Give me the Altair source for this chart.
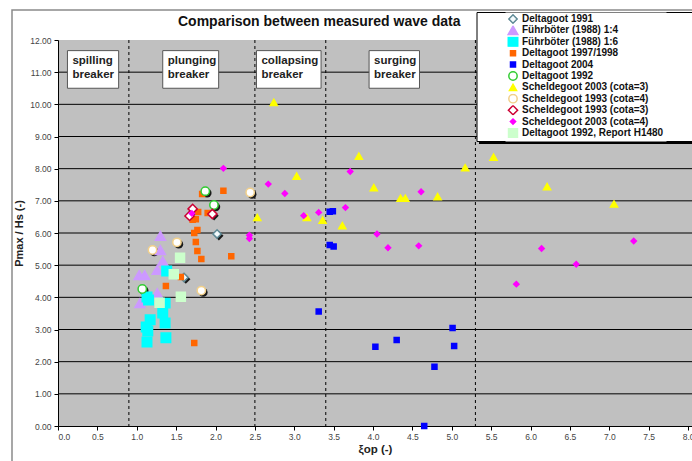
import altair as alt
import pandas as pd

FONT = "Liberation Sans"

SERIES = [
    "Deltagoot 1991",
    "Führböter (1988) 1:4",
    "Führböter (1988) 1:6",
    "Deltagoot 1997/1998",
    "Deltagoot 2004",
    "Deltagoot 1992",
    "Scheldegoot 2003 (cota=3)",
    "Scheldegoot 1993 (cota=4)",
    "Scheldegoot 1993 (cota=3)",
    "Scheldegoot 2003 (cota=4)",
    "Deltagoot 1992, Report H1480",
]

dg1991_x = [2.02, 1.60]
dg1991_y = [5.97, 4.62]
fb14_x = [1.30, 1.30, 1.33, 1.26, 1.03, 1.10, 1.26, 1.04]
fb14_y = [5.91, 5.47, 5.13, 4.85, 4.69, 4.69, 4.13, 3.82]
fb16_x = [1.38, 1.13, 1.15, 1.36, 1.33, 1.17, 1.36, 1.12, 1.14, 1.13, 1.37]
fb16_y = [4.82, 4.01, 3.92, 3.82, 3.51, 3.30, 3.20, 3.08, 2.95, 2.61, 2.74]
dg9798_x = [1.83, 2.10, 1.78, 1.90, 1.75, 1.71, 1.73, 1.77, 1.75, 1.77, 1.82, 2.20, 1.37, 1.56, 1.73]
dg9798_y = [7.21, 7.31, 6.65, 6.62, 6.43, 6.41, 6.00, 6.09, 5.72, 5.44, 5.19, 5.28, 4.35, 4.63, 2.58]
dg2004_x = [3.45, 3.49, 3.45, 3.50, 3.31, 4.03, 4.30, 5.01, 5.03, 4.78, 4.65]
dg2004_y = [6.66, 6.68, 5.63, 5.58, 3.56, 2.46, 2.67, 3.05, 2.49, 1.84, 0.00]
dg1992_x = [1.87, 1.98, 1.07]
dg1992_y = [7.30, 6.87, 4.26]
sg2003c3_x = [2.74, 3.82, 3.03, 4.01, 4.35, 4.41, 4.82, 5.17, 5.53, 6.21, 7.06, 2.53, 3.16, 3.36, 3.61]
sg2003c3_y = [10.06, 8.39, 7.77, 7.41, 7.08, 7.08, 7.13, 8.03, 8.36, 7.44, 6.90, 6.48, 6.48, 6.40, 6.23]
sg1993c4_x = [1.20, 1.51, 1.82, 2.44]
sg1993c4_y = [5.47, 5.71, 4.21, 7.26]
sg1993c3_x = [1.71, 1.67, 1.96]
sg1993c3_y = [6.75, 6.53, 6.59]
sg2003c4_x = [2.10, 1.70, 2.43, 2.43, 2.67, 2.88, 3.71, 3.12, 3.31, 3.65, 4.61, 4.05, 4.19, 4.58, 6.14, 6.58, 7.31, 5.82]
sg2003c4_y = [8.01, 6.61, 5.93, 5.83, 7.52, 7.23, 7.91, 6.54, 6.64, 6.79, 7.28, 5.97, 5.54, 5.60, 5.52, 5.03, 5.75, 4.41]
h1480_x = [1.55, 1.47, 1.56, 1.29]
h1480_y = [5.23, 4.72, 4.02, 3.83]

XS = [dg1991_x, fb14_x, fb16_x, dg9798_x, dg2004_x, dg1992_x, sg2003c3_x, sg1993c4_x, sg1993c3_x, sg2003c4_x, h1480_x]
YS = [dg1991_y, fb14_y, fb16_y, dg9798_y, dg2004_y, dg1992_y, sg2003c3_y, sg1993c4_y, sg1993c3_y, sg2003c4_y, h1480_y]

SHAPES = ["diamond", "triangle-up", "square", "square", "square", "circle",
          "triangle-up", "circle", "diamond", "diamond", "square"]
FILLS = ["#f4fbfd", "#cc99ff", "#00ffff", "#ff6600", "#0000ff", "#ffffff",
         "#ffff00", "#ffffff", "#ffffff", "#ff00ff", "#ccffcc"]
STROKES = ["#5f8a96", "#cc99ff", "#00ffff", "#ff6600", "#0000ff", "#33cc33",
           "#ffff00", "#f2d08a", "#cc0033", "#ff00ff", "#ccffcc"]
SIZES = [70, 100, 90, 25, 25, 70, 50, 70, 85, 28, 80]
SHADOWED = ["Deltagoot 1991", "Deltagoot 1992", "Scheldegoot 1993 (cota=4)", "Scheldegoot 1993 (cota=3)"]

regime_x = [0.9, 2.5, 3.4, 5.3]
box_labels = ["spilling\nbreaker", "plunging\nbreaker", "collapsing\nbreaker", "surging\nbreaker"]
box_x0 = [0.12, 1.33, 2.52, 3.95]
box_x1 = [0.77, 2.04, 3.34, 4.59]
box_ytop = [11.67, 11.67, 11.67, 11.67]
box_ybot = [10.50, 10.50, 10.50, 10.50]

grid_y = list(range(1, 12))
y_ticks = list(range(0, 13))
x_ticks = [i * 0.5 for i in range(17)]

rows = []
for k, (name, xs, ys) in enumerate(zip(SERIES, XS, YS)):
    for xv, yv in zip(xs, ys):
        rows.append({"series": name, "x": xv, "y": yv, "idx": k})
df = pd.DataFrame(rows)

xscale = alt.Scale(domain=[0, 8.05], nice=False, zero=False)
yscale = alt.Scale(domain=[0, 12], nice=False, zero=False)

XAXIS = alt.Axis(
    values=x_ticks, format=".1f", title="ξop (-)", grid=False,
    tickSize=4, tickColor="#000", domainColor="#000",
    labelFont=FONT, labelFontSize=8.5, labelColor="#444", labelPadding=2,
    titleFont=FONT, titleFontSize=11.5, titleFontWeight="bold", titleColor="#222", titlePadding=3,
)
YAXIS = alt.Axis(
    values=y_ticks, format=".2f", title="Pmax / Hs (-)", grid=False,
    tickSize=4, tickColor="#000", domainColor="#000",
    labelFont=FONT, labelFontSize=8.5, labelColor="#444", labelPadding=3,
    titleFont=FONT, titleFontSize=11, titleFontWeight="bold", titleColor="#222", titlePadding=5,
)


def X(field):
    return alt.X(field, scale=xscale, axis=XAXIS)


def Y(field):
    return alt.Y(field, scale=yscale, axis=YAXIS)


legend = alt.Legend(
    title=None, orient="none", legendX=447, legendY=-28,
    fillColor="white", strokeColor="transparent", padding=2,
    labelOffset=3, symbolStrokeWidth=1.5, clipHeight=10,
    labelFont=FONT, labelFontSize=10, labelFontWeight="bold", labelColor="#111",
    rowPadding=1.4, labelLimit=400,
)

one = pd.DataFrame({"a": [0]})

frame = alt.Chart(one).mark_rect(
    fill="transparent", stroke="#8a8a8a", strokeWidth=1.5
).encode(x=alt.value(-46), x2=alt.value(720), y=alt.value(-30), y2=alt.value(480))

# legend box (white panel with black border and dark drop shadow, as in the original)
legend_shadow = alt.Chart(one).mark_rect(fill="#000000").encode(
    x=alt.value(421), x2=alt.value(720), y=alt.value(-25), y2=alt.value(104)
)
legend_panel = alt.Chart(one).mark_rect(fill="white", stroke="#000000", strokeWidth=1).encode(
    x=alt.value(419), x2=alt.value(720), y=alt.value(-27.5), y2=alt.value(101.5)
)

grid = alt.Chart(pd.DataFrame({"g": grid_y})).mark_rule(color="#000000", strokeWidth=1).encode(
    y=Y("g:Q")
)

dashes = alt.Chart(pd.DataFrame({"rx": regime_x})).mark_rule(
    color="#000000", strokeWidth=1, strokeDash=[3, 3]
).encode(x=X("rx:Q"))

boxes_df = pd.DataFrame({"label": box_labels, "x0": box_x0, "x1": box_x1, "yt": box_ytop, "yb": box_ybot})
boxes = alt.Chart(boxes_df).mark_rect(fill="white", stroke="#555555", strokeWidth=1).encode(
    x=X("x0:Q"), x2="x1", y=Y("yt:Q"), y2="yb",
)
box_text = alt.Chart(boxes_df).mark_text(
    align="left", baseline="top", dx=5, dy=4, lineBreak="\n", lineHeight=14,
    font=FONT, fontSize=11.5, fontWeight="bold", color="#222222"
).encode(x=X("x0:Q"), y=Y("yt:Q"), text="label:N")

sh_df = df[df["series"].isin(SHADOWED)]
shadow_c = alt.Chart(sh_df[sh_df["series"].isin(["Deltagoot 1992", "Scheldegoot 1993 (cota=4)"])]).mark_point(
    shape="circle", filled=True, color="#1a1a1a", size=80, opacity=1, xOffset=1.8, yOffset=1.8
).encode(x=X("x:Q"), y=Y("y:Q"))
shadow_d = alt.Chart(sh_df[sh_df["series"].isin(["Deltagoot 1991", "Scheldegoot 1993 (cota=3)"])]).mark_point(
    shape="diamond", filled=True, color="#1a1a1a", size=85, opacity=1, xOffset=1.8, yOffset=1.8
).encode(x=X("x:Q"), y=Y("y:Q"))

points = alt.Chart(df).mark_point(opacity=1, strokeWidth=1.5).encode(
    x=X("x:Q"),
    y=Y("y:Q"),
    shape=alt.Shape("series:N", scale=alt.Scale(domain=SERIES, range=SHAPES), legend=legend),
    fill=alt.Fill("series:N", scale=alt.Scale(domain=SERIES, range=FILLS), legend=legend),
    stroke=alt.Stroke("series:N", scale=alt.Scale(domain=SERIES, range=STROKES), legend=legend),
    size=alt.Size("series:N", scale=alt.Scale(type="ordinal", domain=SERIES, range=SIZES), legend=legend),
    order=alt.Order("idx:Q"),
)

chart = alt.layer(
    frame, grid, dashes, boxes, box_text, shadow_c, shadow_d, points, legend_shadow, legend_panel
).properties(
    width=634, height=386,
    padding={"left": 58, "top": 40, "right": 0, "bottom": 35},
    autosize=alt.AutoSizeParams(type="none"),
    title=alt.TitleParams(
        text="Comparison between measured wave data", anchor="start", frame="group",
        dx=120, offset=13, dy=33, font=FONT, fontSize=14, fontWeight="bold", color="#111",
    ),
    background="white",
).configure_view(stroke=None, fill="#c0c0c0")

chart.save("out.html", embed_options={"renderer": "svg", "actions": False})
